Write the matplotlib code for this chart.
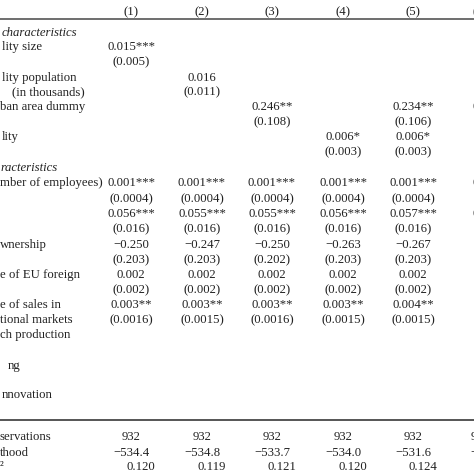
import matplotlib
matplotlib.use("Agg")
import matplotlib.pyplot as plt

headers = ["(1)", "(2)", "(3)", "(4)", "(5)", "(6)"]
col_x = [131, 202, 272, 343, 413, 480]

labels = [
    (33, 2, "characteristics", True),
    (47, 2, "lity size", False),
    (78, 2, "lity population", False),
    (92, 12, "(in thousands)", False),
    (107, 0, "ban area dummy", False),
    (137, 2, "lity", False),
    (168, 0, "racteristics", True),
    (183, 0, "mber of employees)", False),
    (245, 0, "wnership", False),
    (275, 0, "e of EU foreign", False),
    (305, 0, "e of sales in", False),
    (320, 0, "tional markets", False),
    (335, 0, "ch production", False),
    (366, 8, "ng", False),
    (395, 2, "nnovation", False),
    (437, 0, "servations", False),
    (453, 0, "thood", False),
    (466, 0, "²", False),
]

rows_y = [47, 62, 78, 92, 107, 122, 137, 152, 183, 199, 214, 229, 245, 260, 275, 290, 305, 320, 350, 380, 410]
cells = [
    ["0.015***", "", "", "", "", ""],
    ["(0.005)", "", "", "", "", ""],
    ["", "0.016", "", "", "", ""],
    ["", "(0.011)", "", "", "", ""],
    ["", "", "0.246**", "", "0.234**", "0.2"],
    ["", "", "(0.108)", "", "(0.106)", "(0"],
    ["", "", "", "0.006*", "0.006*", "0"],
    ["", "", "", "(0.003)", "(0.003)", "(0"],
    ["0.001***"] * 5 + ["0.0"],
    ["(0.0004)"] * 5 + ["(0"],
    ["0.056***", "0.055***", "0.055***", "0.056***", "0.057***", "0.0"],
    ["(0.016)"] * 5 + ["(0"],
    ["\u22120.250", "\u22120.247", "\u22120.250", "\u22120.263", "\u22120.267", "\u22120"],
    ["(0.203)", "(0.203)", "(0.202)", "(0.203)", "(0.203)", "(0"],
    ["0.002"] * 5 + [""],
    ["(0.002)"] * 5 + ["(0"],
    ["0.003**", "0.003**", "0.003**", "0.003**", "0.004**", ""],
    ["(0.0016)", "(0.0015)", "(0.0016)", "(0.0015)", "(0.0015)", "(0"],
    ["", "", "", "", "", "(0"],
    ["", "", "", "", "", "(0"],
    ["", "", "", "", "", "(0"],
]
obs = ["932", "932", "932", "932", "932", "903"]
loglik = ["\u2212534.4", "\u2212534.8", "\u2212533.7", "\u2212534.0", "\u2212531.6", "\u221249"]
r2 = ["0.120", "0.119", "0.121", "0.120", "0.124", ""]

W = H = 474
fig = plt.figure(figsize=(4.74, 4.74), dpi=100)
fig.patch.set_facecolor("white")
plt.rcParams["font.family"] = ["Liberation Serif", "DejaVu Serif"]
FS = 9.2
col = "#222222"

def T(x, y, s, ha="center", italic=False):
    fig.text(x / W, 1 - y / H, s, ha=ha, va="center", fontsize=FS, color=col,
             style="italic" if italic else "normal")

for x, h in zip(col_x, headers):
    T(x, 12, h)
fig.add_artist(plt.Line2D([0, 1], [1 - 19 / H] * 2, color="#555555", lw=1.2))
fig.add_artist(plt.Line2D([0, 1], [1 - 420 / H] * 2, color="#555555", lw=1.4))

for y, x, s, it in labels:
    T(x, y, s, ha="left", italic=it)

for y, row in zip(rows_y, cells):
    for x, s in zip(col_x, row):
        if s:
            T(x, y, s)

for x, s in zip(col_x, obs):
    T(x, 437, s)
for x, s in zip(col_x, loglik):
    T(x, 453, s)
for x, s in zip(col_x, r2):
    if s:
        T(x + 10, 467, s)

fig.savefig("out.png", dpi=100, facecolor="white")
